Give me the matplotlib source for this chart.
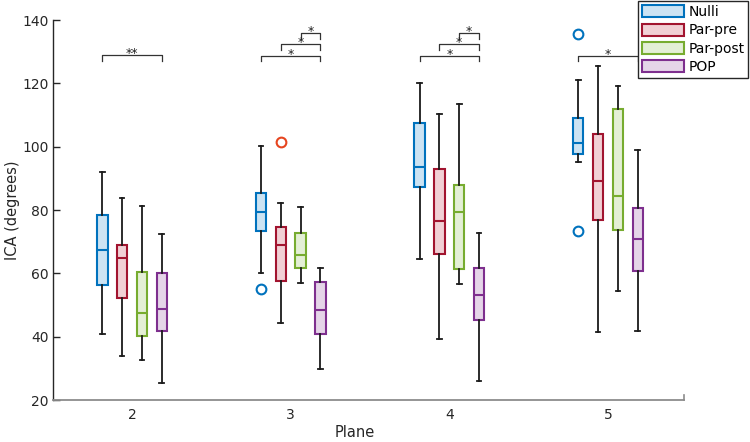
import matplotlib
matplotlib.use("Agg")
import matplotlib.pyplot as plt
from matplotlib.patches import Patch

plt.rcParams['font.family'] = ['DejaVu Sans']

# ---------------- data ----------------
planes = [2, 3, 4, 5]
series = ["Nulli", "Par-pre", "Par-post", "POP"]

# per series: lists over planes 2..5
whislo = {
    "Nulli":    [40.7, 60.0, 64.5, 95.1],
    "Par-pre":  [33.9, 44.2, 39.3, 41.6],
    "Par-post": [32.6, 57.1, 56.6, 54.5],
    "POP":      [25.4, 29.7, 26.1, 41.9],
}
q1 = {
    "Nulli":    [56.2, 73.4, 87.2, 97.8],
    "Par-pre":  [52.3, 57.7, 66.2, 76.8],
    "Par-post": [40.3, 61.8, 61.3, 73.8],
    "POP":      [41.9, 40.7, 45.2, 60.7],
}
med = {
    "Nulli":    [67.4, 79.5, 93.6, 101.1],
    "Par-pre":  [64.7, 69.0, 76.6, 89.3],
    "Par-post": [47.6, 65.8, 79.3, 84.3],
    "POP":      [48.7, 48.5, 53.1, 70.8],
}
q3 = {
    "Nulli":    [78.5, 85.5, 107.5, 109.1],
    "Par-pre":  [69.0, 74.5, 93.0, 104.1],
    "Par-post": [60.3, 72.7, 87.9, 111.8],
    "POP":      [60.1, 57.2, 61.6, 80.5],
}
whishi = {
    "Nulli":    [92.1, 100.2, 120.1, 121.1],
    "Par-pre":  [83.7, 82.2, 110.3, 125.6],
    "Par-post": [81.3, 81.0, 113.5, 119.3],
    "POP":      [72.5, 61.7, 72.7, 99.1],
}
fliers = {
    "Nulli":    [[], [55.1], [], [135.5, 73.4]],
    "Par-pre":  [[], [101.5], [], []],
    "Par-post": [[], [], [], []],
    "POP":      [[], [], [], []],
}

# significance brackets: (plane, series index a, series index b, height, label)
brackets = [
    (2, 0, 3, 128.9, "**"),
    (3, 0, 3, 128.7, "*"),
    (3, 1, 3, 132.3, "*"),
    (3, 2, 3, 135.8, "*"),
    (4, 0, 3, 128.7, "*"),
    (4, 1, 3, 132.3, "*"),
    (4, 2, 3, 135.8, "*"),
    (5, 0, 3, 128.6, "*"),
]

yticks = [20, 40, 60, 80, 100, 120, 140]

# ---------------- style ----------------
edge_colors = ["#0072BD", "#A2142F", "#77AC30", "#7E2F8E"]
fill_colors = ["#CCE3F3", "#F1D0D5", "#E4EFD6", "#E5D5E8"]
flier_colors = ["#0072BD", "#E6451F", "#77AC30", "#7E2F8E"]
offsets = [-0.1875, -0.0625, 0.0625, 0.1875]
box_w = 0.066

fig = plt.figure(figsize=(7.5, 4.42), dpi=100)
ax = fig.add_axes([53/750, 1-400/442, (684-53)/750, (400-20)/442])

for i, s in enumerate(series):
    stats = []
    for k, p in enumerate(planes):
        stats.append(dict(med=med[s][k], q1=q1[s][k], q3=q3[s][k],
                          whislo=whislo[s][k], whishi=whishi[s][k],
                          fliers=fliers[s][k], label=""))
    pos = [p + offsets[i] for p in planes]
    ax.bxp(stats, positions=pos, widths=box_w, patch_artist=True,
           capwidths=0.03, manage_ticks=False, zorder=3,
           boxprops=dict(facecolor=fill_colors[i], edgecolor=edge_colors[i], linewidth=1.5),
           medianprops=dict(color=edge_colors[i], linewidth=1.5),
           whiskerprops=dict(color="#1a1a1a", linewidth=1.3),
           capprops=dict(color="#1a1a1a", linewidth=1.3),
           flierprops=dict(marker="o", markerfacecolor="none",
                           markeredgecolor=flier_colors[i], markersize=7,
                           markeredgewidth=1.5, linestyle="none"))

# brackets
tip = 1.7
for p, a, b, h, lab in brackets:
    xa = p + offsets[a]
    xb = p + offsets[b]
    ax.plot([xa, xa, xb, xb], [h - tip, h, h, h - tip], color="#333333",
            linewidth=0.9, zorder=4)
    ax.text((xa + xb) / 2, h - 1.6, lab, ha="center", va="bottom",
            fontsize=9, color="#222222", zorder=5)

ax.set_xlim(1.502, 5.479)
ax.set_ylim(20, 140)
ax.set_xticks(planes)
ax.set_xticklabels([str(p) for p in planes])
ax.set_yticks(yticks)
ax.tick_params(axis="x", length=0, pad=6, labelsize=10, colors="#262626")
ax.tick_params(axis="y", direction="in", length=5, width=1, pad=3,
               labelsize=10, colors="#262626")

ax.spines["top"].set_visible(False)
ax.spines["right"].set_visible(False)
ax.spines["left"].set_color("#262626")
ax.spines["bottom"].set_color("#8c8c8c")
ax.spines["left"].set_linewidth(1.0)
ax.spines["bottom"].set_linewidth(1.3)
# small end tick at right of x axis
ax.plot([1, 1], [0, 0.014], transform=ax.transAxes, color="#8c8c8c",
        linewidth=1.2, clip_on=False)

ax.set_xlabel("Plane", fontsize=10.5, color="#262626")
ax.set_ylabel("ICA (degrees)", fontsize=10.5, color="#262626")
ax.xaxis.set_label_coords((355 - 53) / 631, (400 - 425) / 380)
ax.yaxis.set_label_coords((20 - 53) / 631, 0.5)

handles = [Patch(facecolor=fill_colors[i], edgecolor=edge_colors[i],
                 linewidth=1.5, label=series[i]) for i in range(4)]
leg = fig.legend(handles=handles, loc="upper right",
                 bbox_to_anchor=(748.5/750, 1 - 1/442), fontsize=10,
                 frameon=True, fancybox=False, edgecolor="#262626",
                 framealpha=1, handlelength=3.0, handleheight=0.95,
                 handletextpad=0.3, labelspacing=0.3, borderpad=0.3,
                 borderaxespad=0)
leg.get_frame().set_linewidth(1.0)

fig.savefig("out.png", dpi=100)
